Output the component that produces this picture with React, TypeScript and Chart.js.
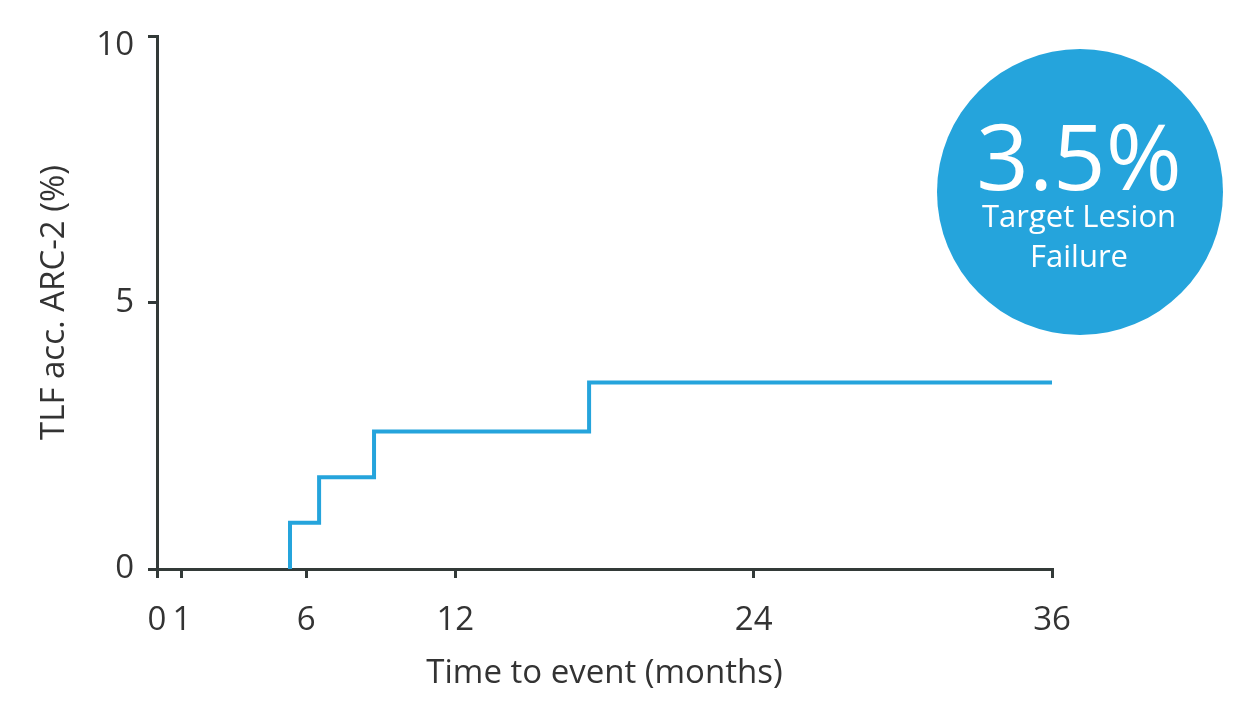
import React, { useEffect, useRef } from "react";
import { Chart, registerables } from "chart.js";

Chart.register(...registerables);

// Data
const eventTimes = [5.35, 6.52, 8.73, 17.38, 36];
const eventValues = [0.87, 1.72, 2.58, 3.5, 3.5];
const startTime = 5.35;
const startValue = 0;
const xTicks = [0, 1, 6, 12, 24, 36];
const yTicks = [0, 5, 10];
const xTitle = "Time to event (months)";
const yTitle = "TLF acc. ARC-2 (%)";
const badgeLines = ["Target Lesion", "Failure"];

const FONT = "'Open Sans', 'Noto Sans', sans-serif";
const AXIS = "#333a38";
const TEXT = "#333333";
const BLUE = "#25a4dc";
const Y_MAX = yTicks[yTicks.length - 1];

export default function App() {
  const ref = useRef<HTMLCanvasElement | null>(null);

  useEffect(() => {
    let chart: Chart | null = null;
    let cancelled = false;
    const make = () => {
      if (cancelled || !ref.current) return;
      // points: start at 0, then the cumulative value reached at each event time
      const points = [{ x: startTime, y: startValue }].concat(
        eventTimes.map((t, i) => ({ x: t, y: eventValues[i] }))
      );
      const badgeText = `${eventValues[eventValues.length - 1]}%`;
      const badge = {
        id: "badge",
        afterDraw(c: any) {
          const ctx = c.ctx;
          ctx.save();
          // top y tick label, kept inside the axis extent
          const ys = c.scales.y;
          ctx.fillStyle = TEXT;
          ctx.font = `33px ${FONT}`;
          ctx.textAlign = "right";
          ctx.textBaseline = "middle";
          ctx.fillText(String(Y_MAX), ys.right - 9 - 14, ys.getPixelForValue(Y_MAX) + 10);

          ctx.beginPath();
          ctx.arc(1080, 192, 143, 0, Math.PI * 2);
          ctx.fillStyle = BLUE;
          ctx.fill();
          ctx.fillStyle = "#ffffff";
          ctx.textAlign = "center";
          ctx.textBaseline = "alphabetic";
          ctx.font = `92px ${FONT}`;
          ctx.fillText(badgeText, 1079, 190);
          ctx.font = `31px ${FONT}`;
          ctx.fillText(badgeLines[0], 1079, 227);
          ctx.fillText(badgeLines[1], 1079, 267);
          ctx.restore();
        },
      };
      chart = new Chart(ref.current, {
        type: "line",
        data: {
          datasets: [
            {
              data: points,
              borderColor: BLUE,
              borderWidth: 4,
              pointRadius: 0,
              stepped: "before",
              fill: false,
            },
          ],
        },
        options: {
          responsive: false,
          animation: false,
          layout: { padding: { left: 0, top: 36, right: 195, bottom: 0 } },
          plugins: { legend: { display: false }, tooltip: { enabled: false } },
          scales: {
            x: {
              type: "linear",
              min: 0,
              max: 36,
              afterFit: (s: any) => {
                s.height = 136;
              },
              afterBuildTicks: (s: any) => {
                s.ticks = xTicks.map((v) => ({ value: v }));
              },
              grid: {
                drawOnChartArea: false,
                drawTicks: true,
                tickLength: 9,
                color: AXIS,
                lineWidth: 3,
              },
              border: { display: true, color: AXIS, width: 3 },
              ticks: {
                color: TEXT,
                font: { family: FONT, size: 33 },
                padding: 23,
                maxRotation: 0,
                autoSkip: false,
              },
              title: {
                display: true,
                text: xTitle,
                color: TEXT,
                font: { family: FONT, size: 33 },
                padding: { top: 12, bottom: 12 },
              },
            },
            y: {
              type: "linear",
              min: 0,
              max: Y_MAX,
              afterFit: (s: any) => {
                s.width = 157;
              },
              afterBuildTicks: (s: any) => {
                s.ticks = yTicks.map((v) => ({ value: v }));
              },
              grid: {
                drawOnChartArea: false,
                drawTicks: true,
                tickLength: 9,
                color: AXIS,
                lineWidth: 3,
              },
              border: { display: true, color: AXIS, width: 3 },
              ticks: {
                color: TEXT,
                font: { family: FONT, size: 33 },
                padding: 14,
                callback: (v: any) => (Number(v) === Y_MAX ? "" : String(v)),
              },
              title: {
                display: true,
                text: yTitle,
                color: TEXT,
                font: { family: FONT, size: 33 },
                padding: { top: 35, bottom: 35 },
              },
            },
          },
        },
        plugins: [badge],
      });
    };
    const fontsAny = (document as any).fonts;
    if (fontsAny && fontsAny.load) {
      Promise.all([
        fontsAny.load(`33px 'Open Sans'`),
        fontsAny.load(`92px 'Open Sans'`),
      ])
        .catch(() => null)
        .then(make);
    } else {
      make();
    }
    return () => {
      cancelled = true;
      if (chart) chart.destroy();
    };
  }, []);

  return (
    <div style={{ position: "absolute", left: 0, top: 0, width: 1247, height: 705, background: "#fff" }}>
      <canvas ref={ref} width={1247} height={705} />
    </div>
  );
}
